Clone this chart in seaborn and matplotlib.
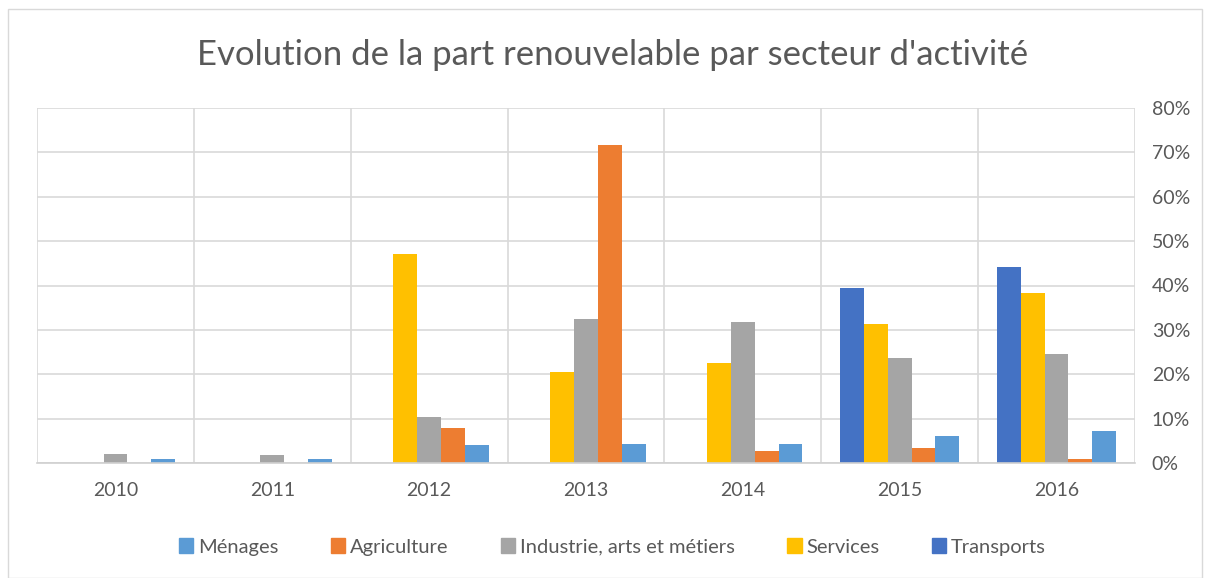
import numpy as np
import pandas as pd
import matplotlib
matplotlib.use("Agg")
import matplotlib.pyplot as plt
import seaborn as sns
from matplotlib.patches import Patch, Rectangle
from matplotlib.ticker import PercentFormatter

years = ["2010", "2011", "2012", "2013", "2014", "2015", "2016"]
# valeurs en %
transports = [0, 0, 0, 0, 0, 39.5, 44.1]
services = [0, 0, 47.2, 20.4, 22.5, 31.4, 38.2]
industrie = [2.0, 1.8, 10.3, 32.5, 31.8, 23.6, 24.6]
agriculture = [0, 0, 7.9, 71.7, 2.8, 3.3, 0.9]
menages = [0.9, 0.9, 4.1, 4.3, 4.3, 6.0, 7.3]

series = {
    "Transports": transports,
    "Services": services,
    "Industrie, arts et métiers": industrie,
    "Agriculture": agriculture,
    "Ménages": menages,
}
colors = {
    "Transports": "#4472C4",
    "Services": "#FFC000",
    "Industrie, arts et métiers": "#A5A5A5",
    "Agriculture": "#ED7D31",
    "Ménages": "#5B9BD5",
}

rows = []
for name, vals in series.items():
    for y, v in zip(years, vals):
        rows.append({"year": y, "secteur": name, "value": v})
df = pd.DataFrame(rows)

sns.set_style("white")
plt.rcParams['font.family'] = ['Lato', 'DejaVu Sans']

fig = plt.figure(figsize=(12.06, 5.78), dpi=100)
ax = fig.add_axes([37 / 1206, 1 - 463 / 578, (1135 - 37) / 1206, (463 - 108) / 578])

hue_order = list(series.keys())
sns.barplot(data=df, x="year", y="value", hue="secteur", hue_order=hue_order,
            palette=colors, saturation=1, width=0.76, linewidth=0, ax=ax, legend=False)

ax.set_xlim(-0.5, len(years) - 0.5)
ax.set_ylim(0, 80)
ax.set_yticks(np.arange(0, 81, 10))
ax.yaxis.set_major_formatter(PercentFormatter(decimals=0))
ax.yaxis.tick_right()
ax.set_xticks(np.arange(-0.5, len(years), 1), minor=True)
ax.tick_params(axis='both', which='both', length=0, labelsize=14, colors="#595959")
ax.tick_params(axis='x', pad=14)
ax.tick_params(axis='y', pad=12)
ax.grid(axis='y', which='major', color="#D9D9D9", linewidth=1.2)
ax.grid(axis='x', which='minor', color="#D9D9D9", linewidth=1.2)
ax.grid(axis='x', which='major', visible=False)
ax.set_axisbelow(True)
for s in ["top", "right", "left"]:
    ax.spines[s].set_visible(False)
ax.spines["bottom"].set_color("#D0D0D0")
ax.spines["bottom"].set_linewidth(1.2)
ax.set_xlabel("")
ax.set_ylabel("")

fig.text(0.508, 1 - 55 / 578, "Evolution de la part renouvelable par secteur d'activité",
         ha="center", va="center", fontsize=25, color="#595959")

handles = [Patch(color=colors[n], label=n) for n in reversed(hue_order)]
leg = fig.legend(handles=handles, loc="center", bbox_to_anchor=(0.508, 1 - 547 / 578),
                 ncol=5, frameon=False, fontsize=14.5, handlelength=0.7, handleheight=0.7,
                 handletextpad=0.25, columnspacing=2.6)
for t in leg.get_texts():
    t.set_color("#595959")

fig.patches.append(Rectangle((8 / 1206, 0), 1 - 12 / 1206, 1 - 9 / 578, transform=fig.transFigure,
                             fill=False, edgecolor="#D9D9D9", linewidth=1))

fig.savefig("out.png", dpi=100)
